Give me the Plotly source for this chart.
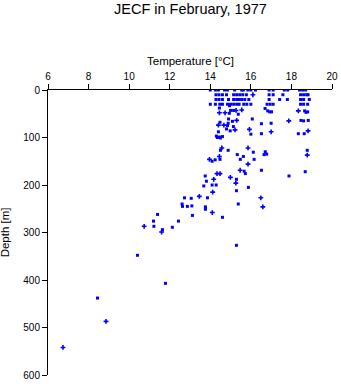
import plotly.graph_objects as go

# Bottle temperatures (°C) and depths (m) – plain samples
temp_sq = [
    14.0, 14.25, 14.4, 14.7, 14.85, 15.2, 15.55, 15.63, 15.85, 16.0, 16.23, 16.9, 17.1, 17.65, 17.82, 18.4, 18.55, 18.7,
    14.28, 14.43, 14.6, 14.8, 15.15, 15.3, 15.45, 15.6, 15.78, 16.9, 17.1, 17.58, 18.45, 18.6, 18.75, 18.82,
    14.28, 14.43, 14.6, 14.9, 15.15, 15.3, 15.42, 15.55, 15.7, 15.9, 16.9, 17.42, 17.8, 18.45, 18.6, 18.88,
    14.0, 14.25, 14.47, 14.6, 14.85, 15.0, 15.15, 15.3, 15.42, 15.65, 15.8, 16.0, 16.8, 16.95, 17.1, 18.45, 18.6, 18.8,
    14.95, 14.45, 16.7, 15.0, 15.15, 16.83, 16.93, 17.02, 18.65, 18.8, 14.94, 15.38, 18.72,
    14.9, 15.09, 16.07, 18.47, 18.6, 18.83,
    14.48, 14.88, 16.52, 17.0, 14.85, 15.14,
    14.8, 14.98, 18.34, 18.63, 14.4, 16.0, 16.52,
    14.3, 14.45, 14.6, 14.35, 14.5,
    14.5, 14.88, 18.78, 16.12, 16.71, 15.33, 16.65, 16.78, 15.63,
    14.24, 14.48, 15.48, 16.16, 14.09, 15.67, 16.52, 18.68, 15.73,
    13.75, 17.88, 15.29, 13.81, 14.09, 14.29, 13.68, 15.88, 15.29,
    12.73, 13.06, 13.86, 12.61, 15.38, 12.63, 12.87, 13.09, 13.76, 13.76,
    13.12, 14.6, 15.29, 11.4, 11.2, 11.22, 11.64, 12.13, 12.43,
    10.41, 11.79, 8.44,
]
depth_sq = [
    0, 0, 0, 0, 0, 0, 0, 0, 0, 0, 0, 0, 0, 0, 0, 0, 0, 0,
    10, 10, 10, 10, 10, 10, 10, 10, 10, 10, 10, 10, 10, 10, 10, 10,
    20, 20, 20, 20, 20, 20, 20, 20, 20, 20, 20, 20, 20, 20, 20, 20,
    30, 30, 30, 30, 30, 30, 30, 30, 30, 30, 30, 30, 30, 30, 30, 30, 30, 30,
    33, 38, 39, 43, 43, 44, 46, 46, 44, 46, 49, 51, 47,
    61, 66, 61, 64, 65, 64,
    68, 70, 71, 70, 75, 77,
    82, 86, 92, 92, 88, 93, 92,
    97, 99, 98, 100, 101,
    127, 127, 127, 131, 130, 136, 136, 135, 140,
    147, 146, 146, 146, 150, 171, 169, 172, 176,
    181, 181, 188, 192, 200, 200, 202, 205, 212,
    227, 228, 227, 240, 240, 245, 245, 244, 246, 251,
    264, 268, 327, 262, 276, 287, 294, 289, 276,
    348, 407, 438,
]

# Samples flagged with a cross marker
temp_x = [
    16.1, 15.27, 15.55, 18.34, 14.45, 14.73, 15.3, 17.87, 14.4, 14.67,
    15.22, 15.93, 17.0, 18.82, 14.57, 15.86, 18.78, 14.45, 13.96, 15.86,
    15.47, 14.33, 14.48, 14.99, 14.17, 15.26, 14.12, 13.46, 16.49, 16.59,
    14.1, 10.74, 11.6, 8.86, 6.74,
]
depth_x = [
    10, 43, 42, 44, 48, 48, 64, 65, 74, 74,
    84, 83, 88, 86, 122, 122, 137, 140, 146, 156,
    169, 176, 176, 184, 188, 196, 215, 224, 227, 246,
    258, 287, 299, 487, 542,
]

x_ticks = [6, 8, 10, 12, 14, 16, 18, 20]
y_ticks = [0, 100, 200, 300, 400, 500, 600]

BLUE = "#0000ff"
FONT = "Liberation Sans, Arial, sans-serif"

fig = go.Figure()
fig.add_trace(go.Scatter(
    x=temp_sq, y=depth_sq, mode="markers",
    marker=dict(symbol="square", size=3, color=BLUE, line=dict(width=0)),
    showlegend=False, hoverinfo="x+y",
))
fig.add_trace(go.Scatter(
    x=temp_x, y=depth_x, mode="markers",
    marker=dict(symbol="cross", size=4, color=BLUE, line=dict(width=0)),
    showlegend=False, hoverinfo="x+y",
))

axis_common = dict(
    showgrid=False, zeroline=False, showline=True, linecolor="black", linewidth=1,
    ticks="outside", ticklen=5, tickwidth=1, tickcolor="black", automargin=False,
    tickfont=dict(family=FONT, size=10, color="black"),
)

fig.update_layout(
    width=341, height=384,
    margin=dict(l=48, r=9, t=90, b=9),
    paper_bgcolor="white", plot_bgcolor="white",
    xaxis=dict(range=[6, 20], side="top", tickvals=x_ticks, **axis_common),
    yaxis=dict(range=[600, 0], tickvals=y_ticks, **axis_common),
    annotations=[
        dict(text="JECF in February, 1977", xref="paper", yref="paper",
             x=0.5, y=1.284, xanchor="center", yanchor="middle", showarrow=False,
             font=dict(family=FONT, size=14.5, color="black")),
        dict(text="Temperature [°C]", xref="paper", yref="paper",
             x=0.5, y=1.103, xanchor="center", yanchor="middle", showarrow=False,
             font=dict(family=FONT, size=11.5, color="black")),
        dict(text="Depth [m]", xref="paper", yref="paper",
             x=-0.152, y=0.5, xanchor="center", yanchor="middle", showarrow=False,
             textangle=-90, font=dict(family=FONT, size=11.5, color="black")),
    ],
)

fig.write_html("out.html")
